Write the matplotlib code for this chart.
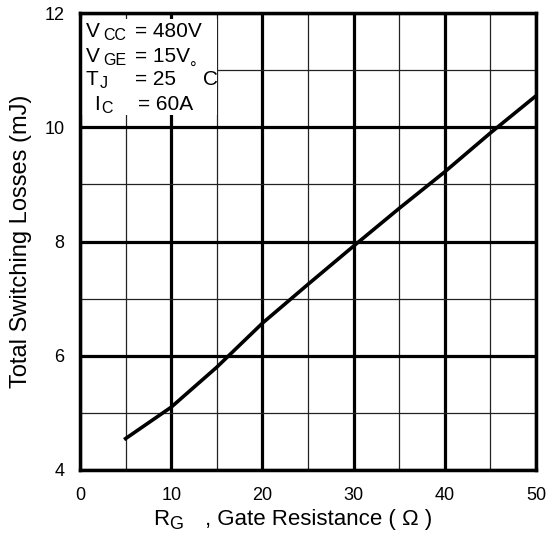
import numpy as np
import matplotlib
matplotlib.use("Agg")
import matplotlib.pyplot as plt
from matplotlib.patches import Rectangle

plt.rcParams['font.family'] = ['Liberation Sans', 'DejaVu Sans']

W, H = 547, 535

# data
rg = [5, 10, 15, 20, 25, 30, 35, 40, 45, 50]
loss = [4.55, 5.1, 5.8, 6.57, 7.25, 7.92, 8.58, 9.22, 9.9, 10.55]

xticks = [0, 10, 20, 30, 40, 50]
yticks = [4, 6, 8, 10, 12]
xminor = [5, 15, 25, 35, 45]
yminor = [5, 7, 9, 11]

# condition box: (base, subscript, rest, base x, sub x, rest x, baseline y) in pixels
cond = [
    ('V', 'CC', '= 480V', 86, 103, 135, 37),
    ('V', 'GE', '= 15V', 86, 103, 135, 62),
    ('T', 'J', '= 25', 86, 100, 135, 85),
    ('I', 'C', '= 60A', 94, 101, 138, 110),
]


def px(x, y):
    return x / W, 1 - y / H


fig = plt.figure(figsize=(W / 100, H / 100), dpi=100)
ax = fig.add_axes([80 / W, 65 / H, 456 / W, 457 / H])

ax.set_xlim(0, 50)
ax.set_ylim(4, 12)
ax.set_xticks(xticks)
ax.set_yticks(yticks)
ax.set_xticks(xminor, minor=True)
ax.set_yticks(yminor, minor=True)
ax.tick_params(which='both', length=0, labelsize=13)
ax.tick_params(axis='x', pad=12)
ax.tick_params(axis='y', pad=11)
ax.grid(which='major', color='black', linewidth=2.3)
ax.grid(which='minor', color='#222222', linewidth=0.9)
ax.set_axisbelow(True)
for s in ax.spines.values():
    s.set_linewidth(2.5)
    s.set_zorder(6)

ax.plot(rg, loss, color='black', linewidth=2.6)

ax.set_ylabel('Total Switching Losses (mJ)', fontsize=17)
ax.yaxis.set_label_coords(-0.105, 0.5)

# white box behind the conditions
ax.add_patch(Rectangle((0, 0.777), 0.30, 0.21, transform=ax.transAxes,
                       facecolor='white', edgecolor='none', zorder=4))

for base, sub, rest, xb, xs, xr, yb in cond:
    fig.text(*px(xb, yb), base, fontsize=15, va='baseline', zorder=7)
    fig.text(*px(xs, yb + 3), sub, fontsize=11.5, va='baseline', zorder=7)
    fig.text(*px(xr, yb), rest, fontsize=15, va='baseline', zorder=7)
fig.text(*px(190, 74), '°', fontsize=12, va='baseline', zorder=7)
fig.text(*px(203, 85), 'C', fontsize=15, va='baseline', zorder=7)

# x label
fig.text(*px(153, 525), 'R', fontsize=16, va='baseline')
fig.text(*px(169, 529), 'G', fontsize=13, va='baseline')
fig.text(*px(205, 525), ', Gate Resistance ( \u03a9 )', fontsize=16, va='baseline')

fig.savefig('out.png', dpi=100)
